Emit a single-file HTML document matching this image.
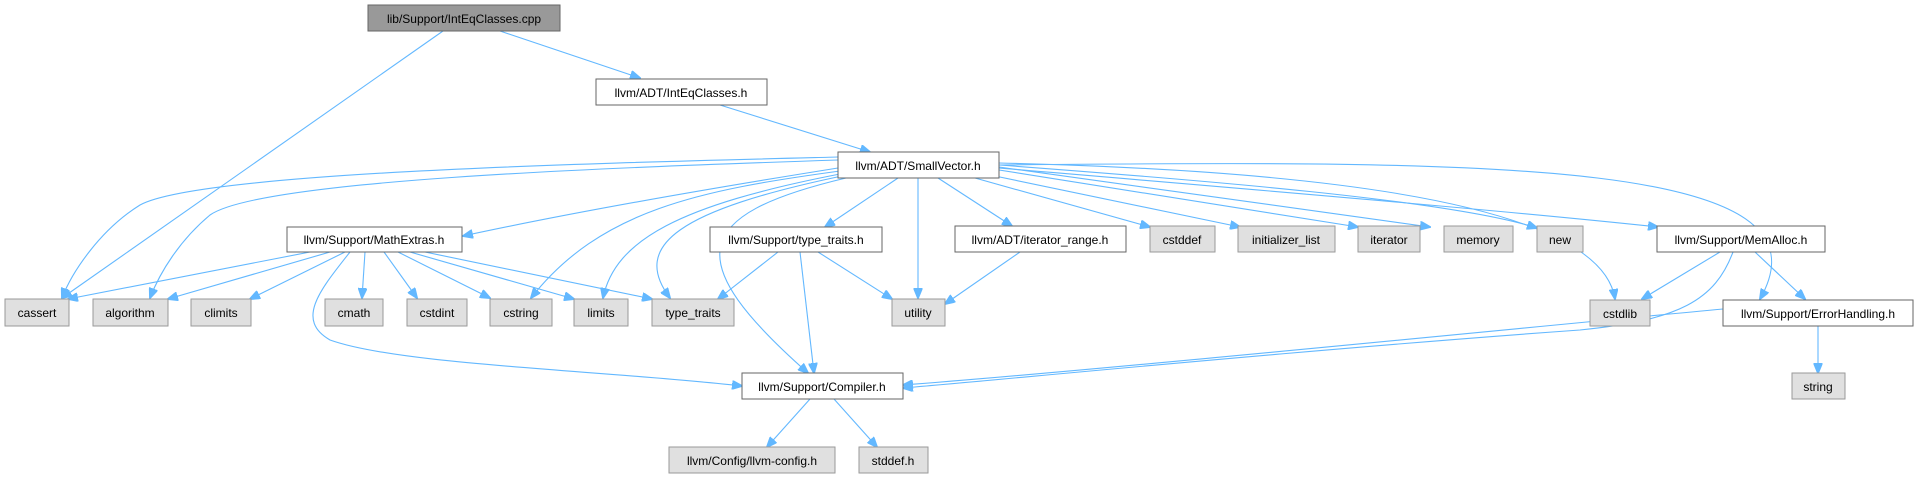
<!DOCTYPE html>
<html><head><meta charset="utf-8"><style>
html,body{margin:0;padding:0;background:#fff;}
svg{display:block;}
text{font-family:"Liberation Sans",sans-serif;font-size:12px;fill:#000;text-anchor:middle;}
.n rect{stroke:#666;stroke-width:1;}
.w{fill:#fff}.g{fill:#e0e0e0;stroke:#999 !important}.d{fill:#999}
path{fill:none;stroke:#63b8ff;stroke-width:1.1;}
</style></head><body>
<svg width="1918" height="478" viewBox="0 0 1918 478" xmlns="http://www.w3.org/2000/svg">
<defs><marker id="a" markerWidth="11" markerHeight="9" refX="10" refY="4.5" orient="auto" markerUnits="userSpaceOnUse"><path d="M0,0 L11,4.5 L0,9 Z" style="fill:#63b8ff;stroke:#63b8ff"/></marker></defs>
<g marker-end="url(#a)">
<path d="M443,31 L62,298"/>
<path d="M500,31 L640,78"/>
<path d="M720,105 L870,152"/>
<path d="M838,157 C600,163 200,172 140,205 C100,230 72,272 62,298"/>
<path d="M838,160 C600,168 260,180 210,215 C180,240 160,272 150,298"/>
<path d="M838,168 C700,190 560,215 463,236"/>
<path d="M840,171 C700,190 600,210 531,298"/>
<path d="M840,174 C680,205 615,240 603,298"/>
<path d="M842,176 C680,210 630,245 670,298"/>
<path d="M846,178 C690,215 680,260 808,373"/>
<path d="M898,178 L825,227"/>
<path d="M918,178 L918,298"/>
<path d="M938,178 L1012,226"/>
<path d="M975,178 L1150,227"/>
<path d="M990,175 L1240,227"/>
<path d="M999,170 L1358,227"/>
<path d="M999,167 L1430,227"/>
<path d="M999,165 C1200,180 1450,200 1537,228"/>
<path d="M999,163 C1300,170 1600,200 1615,299"/>
<path d="M999,168 C1200,185 1500,210 1658,227"/>
<path d="M999,165 C1500,160 1840,160 1760,299"/>
<path d="M310,252 L68,299"/>
<path d="M330,252 L168,299"/>
<path d="M345,252 L250,299"/>
<path d="M365,252 L362,298"/>
<path d="M384,252 L417,298"/>
<path d="M398,252 L490,298"/>
<path d="M410,252 L574,299"/>
<path d="M425,252 L652,299"/>
<path d="M350,252 C320,290 295,320 330,340 C400,365 600,370 742,386"/>
<path d="M778,252 L718,299"/>
<path d="M800,252 L814,373"/>
<path d="M818,252 L892,299"/>
<path d="M1020,252 L945,304"/>
<path d="M1720,252 L1642,299"/>
<path d="M1755,252 L1805,299"/>
<path d="M1733,252 C1715,300 1680,320 1580,330 C1300,350 1000,380 903,388"/>
<path d="M1723,309 C1500,330 1100,370 903,385"/>
<path d="M1818,326 L1818,373"/>
<path d="M810,399 L767,447"/>
<path d="M834,399 L877,447"/>
</g>
<g class="n">
<rect class="d" x="368" y="5" width="192" height="26"/><text x="464" y="23">lib/Support/IntEqClasses.cpp</text>
<rect class="w" x="596" y="79" width="171" height="26"/><text x="681" y="97">llvm/ADT/IntEqClasses.h</text>
<rect class="w" x="838" y="152" width="161" height="26"/><text x="918" y="170">llvm/ADT/SmallVector.h</text>
<rect class="w" x="287" y="227" width="175" height="25"/><text x="374" y="244">llvm/Support/MathExtras.h</text>
<rect class="w" x="710" y="227" width="172" height="25"/><text x="796" y="244">llvm/Support/type_traits.h</text>
<rect class="w" x="955" y="226" width="171" height="26"/><text x="1040" y="244">llvm/ADT/iterator_range.h</text>
<rect class="g" x="1150" y="226" width="65" height="26"/><text x="1182" y="244">cstddef</text>
<rect class="g" x="1238" y="226" width="97" height="26"/><text x="1286" y="244">initializer_list</text>
<rect class="g" x="1358" y="226" width="62" height="26"/><text x="1389" y="244">iterator</text>
<rect class="g" x="1444" y="226" width="69" height="26"/><text x="1478" y="244">memory</text>
<rect class="g" x="1537" y="226" width="46" height="26"/><text x="1560" y="244">new</text>
<rect class="w" x="1657" y="226" width="168" height="26"/><text x="1741" y="244">llvm/Support/MemAlloc.h</text>
<rect class="g" x="5" y="299" width="64" height="27"/><text x="37" y="317">cassert</text>
<rect class="g" x="93" y="299" width="75" height="27"/><text x="130" y="317">algorithm</text>
<rect class="g" x="191" y="299" width="60" height="27"/><text x="221" y="317">climits</text>
<rect class="g" x="325" y="299" width="58" height="27"/><text x="354" y="317">cmath</text>
<rect class="g" x="407" y="299" width="60" height="27"/><text x="437" y="317">cstdint</text>
<rect class="g" x="490" y="299" width="62" height="27"/><text x="521" y="317">cstring</text>
<rect class="g" x="574" y="299" width="54" height="27"/><text x="601" y="317">limits</text>
<rect class="g" x="652" y="299" width="82" height="27"/><text x="693" y="317">type_traits</text>
<rect class="g" x="892" y="299" width="53" height="27"/><text x="918" y="317">utility</text>
<rect class="g" x="1590" y="300" width="60" height="26"/><text x="1620" y="318">cstdlib</text>
<rect class="w" x="1723" y="300" width="190" height="26"/><text x="1818" y="318">llvm/Support/ErrorHandling.h</text>
<rect class="w" x="742" y="373" width="161" height="26"/><text x="822" y="391">llvm/Support/Compiler.h</text>
<rect class="g" x="1792" y="373" width="53" height="26"/><text x="1818" y="391">string</text>
<rect class="g" x="669" y="447" width="166" height="26"/><text x="752" y="465">llvm/Config/llvm-config.h</text>
<rect class="g" x="859" y="447" width="69" height="26"/><text x="893" y="465">stddef.h</text>
</g>
</svg>
</body></html>
